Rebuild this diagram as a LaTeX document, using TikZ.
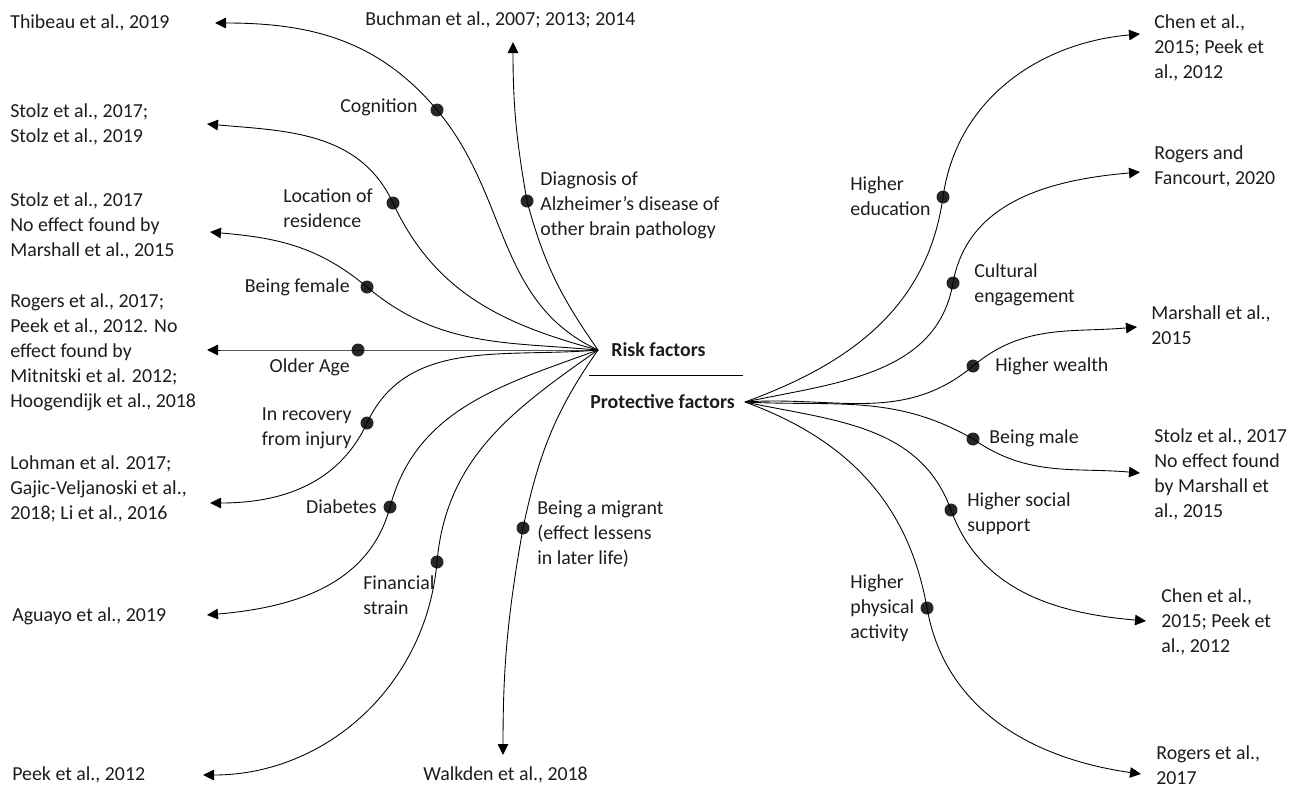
\documentclass[tikz,border=0pt]{standalone}
\usepackage{fontspec}
\setmainfont{Carlito}
\usepackage{tikz}
\usetikzlibrary{arrows.meta}
\definecolor{inkgray}{HTML}{1E1C1D}
\tikzset{
  ref/.style={align=left,inner sep=0pt,anchor=west,text=inkgray},
  lbl/.style={align=left,inner sep=0pt,text=inkgray},
  head/.style={inner sep=0pt,anchor=west,text=inkgray,font=\fontsize{11.3}{14.2}\selectfont\bfseries},
  dot/.style={circle,fill=black!85,inner sep=0pt,minimum size=0.26cm},
  arr/.style={-{Triangle[length=0.22cm,width=0.21cm]},line width=0.5pt},
}

\begin{document}
\begin{tikzpicture}[x=0.02cm,y=0.02cm,font=\fontsize{11.3}{14.2}\selectfont]
\useasboundingbox (0,0) rectangle (1301,-788);

% centre
\coordinate (risk) at (598,-350);
\coordinate (prot) at (745,-402);
\node[head] (risklbl) at (611,-350) {Risk factors};
\node[head] (protlbl) at (590,-402) {Protective factors};
\draw[line width=0.5pt] (589,-375) -- (743,-375);

% studies, risk side
\foreach \n/\x/\y/\t in {1/10/23/{Thibeau et al., 2019},
    2/10/124/{Stolz et al., 2017;\\Stolz et al., 2019},
    3/10/226/{Stolz et al., 2017\\No effect found by\\Marshall et al., 2015},
    4/10/352/{Rogers et al., 2017;\\Peek et al., 2012. No\\effect found by\\Mitnitski et al. 2012;\\Hoogendijk et al., 2018},
    5/10/489/{Lohman et al. 2017;\\Gajic-Veljanoski et al.,\\2018; Li et al., 2016},
    6/12/616/{Aguayo et al., 2019},
    7/12/775/{Peek et al., 2012},
    8/423/775/{Walkden et al., 2018},
    9/365/20/{Buchman et al., 2007; 2013; 2014}} {
  \node[ref] (r\n) at (\x,-\y) {\t};
}

% studies, protective side
\foreach \n/\x/\y/\t in {10/1154/48/{Chen et al.,\\2015; Peek et\\al., 2012},
    11/1154/166/{Rogers and\\Fancourt, 2020},
    12/1151/325/{Marshall et al.,\\2015},
    13/1154/474/{Stolz et al., 2017\\No effect found\\by Marshall et\\al., 2015},
    14/1161/622/{Chen et al.,\\2015; Peek et\\al., 2012},
    15/1156/765/{Rogers et al.,\\2017}} {
  \node[ref] (r\n) at (\x,-\y) {\t};
}

% factor dots
\foreach \n/\x/\y in {1/437/110, 2/393/203, 3/367/287, 4/358/350, 5/367/423,
    6/390/507, 7/437/562, 8/523/528, 9/527/201, 10/943/197, 11/953/283,
    12/973/366, 13/973/439, 14/951/510, 15/927/608} {
  \node[dot] (d\n) at (\x,-\y) {};
}

% arrow ends
\foreach \n/\x/\y in {1/215/23, 2/207/124, 3/210/232, 4/207/350, 5/210/503,
    6/207/615, 7/203/775, 8/503/755, 9/513/42, 10/1140/34, 11/1140/172,
    12/1137/327, 13/1140/473, 14/1146/621, 15/1141/774} {
  \coordinate (e\n) at (\x,-\y);
}

% factor names
\foreach \n/\a/\x/\y/\t in {1/east/418/107/{Cognition},
    2/west/283/208/{Location of\\residence},
    3/east/350/287/{Being female},
    4/east/350/367/{Older Age},
    5/east/352/428/{In recovery\\from injury},
    6/east/377/507/{Diabetes},
    7/west/363/595/{Financial\\strain},
    8/west/537/534/{Being a migrant\\(effect lessens\\in later life)},
    9/west/540/205/{Diagnosis of\\Alzheimer’s disease of\\other brain pathology},
    10/west/850/196/{Higher\\education},
    11/west/974/285/{Cultural\\engagement},
    12/west/995/366/{Higher wealth},
    13/west/989/438/{Being male},
    14/west/967/514/{Higher social\\support},
    15/west/850/608/{Higher\\physical\\activity}} {
  \node[lbl,anchor=\a] (l\n) at (\x,-\y) {\t};
}

% risk curves
\foreach \n/\a/\b/\c/\f in {1/155/-50/130/0, 2/165/-65/115/-5, 3/175/-40/140/-5,
    4/180/0/180/0, 5/185/65/245/0, 6/200/75/255/5, 7/215/85/265/0,
    8/235/78/260/90, 9/125/-75/100/-90} {
  \draw[arr] (risk) to[out=\a,in=\b] (d\n.center) to[out=\c,in=\f] (e\n);
}

% protective curves
\foreach \n/\a/\b/\c/\f in {10/20/-98/82/185, 11/12/-100/80/185, 12/4/220/40/185,
    13/-3/150/-35/175, 14/-12/110/-70/175, 15/-20/100/-80/172} {
  \draw[arr] (prot) to[out=\a,in=\b] (d\n.center) to[out=\c,in=\f] (e\n);
}

\end{tikzpicture}
\end{document}
